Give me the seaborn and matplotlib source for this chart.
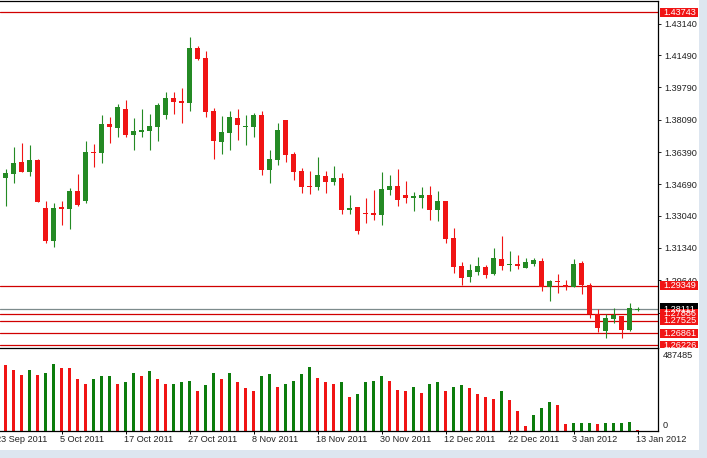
import numpy as np
import matplotlib
matplotlib.use("Agg")
import matplotlib.pyplot as plt
import matplotlib.transforms as mtransforms
from matplotlib.patches import Rectangle
import seaborn as sns

# ---------------- data (daily EUR/USD-like candles) ----------------
opens = [1.3504, 1.3525, 1.3585, 1.3535, 1.3597, 1.3344, 1.3172, 1.3350, 1.3341, 1.3434,
         1.3381, 1.3639, 1.3635, 1.3786, 1.3767, 1.3865, 1.3728, 1.3746, 1.3751, 1.3771,
         1.3835, 1.3923, 1.3907, 1.3898, 1.4186, 1.4134, 1.3855, 1.3693, 1.3741, 1.3818,
         1.3772, 1.3772, 1.3834, 1.3546, 1.3599, 1.3807, 1.3629, 1.3539, 1.3462, 1.3456,
         1.3513, 1.3483, 1.3502, 1.3334, 1.3350, 1.3320, 1.3320, 1.3309, 1.3441, 1.3460,
         1.3413, 1.3399, 1.3399, 1.3413, 1.3335, 1.3381, 1.3187, 1.3039, 1.2983, 1.3009,
         1.3036, 1.2997, 1.3076, 1.3046, 1.3051, 1.3030, 1.3050, 1.3066, 1.2930, 1.2962,
         1.2941, 1.2930, 1.3055, 1.2939, 1.2788, 1.2699, 1.2762, 1.2776, 1.2704, 1.2809]
highs = [1.3548, 1.3665, 1.3686, 1.3674, 1.3602, 1.3380, 1.3369, 1.3380, 1.3448, 1.3523,
         1.3697, 1.3680, 1.3834, 1.3822, 1.3892, 1.3913, 1.3816, 1.3864, 1.3839, 1.3897,
         1.3955, 1.3955, 1.3974, 1.4242, 1.4197, 1.4169, 1.3869, 1.3828, 1.3855, 1.3865,
         1.3834, 1.3844, 1.3855, 1.3650, 1.3790, 1.3807, 1.3639, 1.3555, 1.3539, 1.3613,
         1.3539, 1.3565, 1.3529, 1.3413, 1.3350, 1.3397, 1.3439, 1.3534, 1.3518, 1.3550,
         1.3486, 1.3429, 1.3455, 1.3460, 1.3434, 1.3381, 1.3239, 1.3062, 1.3050, 1.3087,
         1.3045, 1.3134, 1.3197, 1.3118, 1.3097, 1.3081, 1.3081, 1.3081, 1.2966, 1.2997,
         1.2966, 1.3076, 1.3066, 1.2950, 1.2813, 1.2788, 1.2818, 1.2776, 1.2845, 1.2825]
lows = [1.3357, 1.3478, 1.3532, 1.3514, 1.3378, 1.3162, 1.3141, 1.3255, 1.3234, 1.3357,
        1.3372, 1.3562, 1.3580, 1.3685, 1.3720, 1.3720, 1.3648, 1.3720, 1.3651, 1.3698,
        1.3814, 1.3841, 1.3793, 1.3856, 1.4123, 1.3825, 1.3604, 1.3630, 1.3651, 1.3702,
        1.3677, 1.3718, 1.3520, 1.3478, 1.3572, 1.3588, 1.3493, 1.3425, 1.3420, 1.3441,
        1.3425, 1.3467, 1.3314, 1.3314, 1.3209, 1.3267, 1.3283, 1.3257, 1.3414, 1.3357,
        1.3372, 1.3330, 1.3346, 1.3283, 1.3278, 1.3162, 1.3004, 1.2941, 1.2957, 1.2994,
        1.2978, 1.2992, 1.3018, 1.3015, 1.3025, 1.3030, 1.3039, 1.2909, 1.2857, 1.2897,
        1.2913, 1.2930, 1.2894, 1.2767, 1.2694, 1.2662, 1.2741, 1.2662, 1.2699, 1.2804]
closes = [1.3529, 1.3581, 1.3535, 1.3595, 1.3378, 1.3172, 1.3344, 1.3341, 1.3434, 1.3360,
          1.3639, 1.3634, 1.3786, 1.3772, 1.3876, 1.3728, 1.3750, 1.3756, 1.3774, 1.3886,
          1.3923, 1.3904, 1.3898, 1.4186, 1.4128, 1.3851, 1.3698, 1.3744, 1.3823, 1.3783,
          1.3776, 1.3834, 1.3546, 1.3602, 1.3755, 1.3625, 1.3535, 1.3456, 1.3456, 1.3518,
          1.3483, 1.3502, 1.3334, 1.3344, 1.3225, 1.3314, 1.3309, 1.3444, 1.3460, 1.3388,
          1.3399, 1.3402, 1.3413, 1.3335, 1.3381, 1.3183, 1.3036, 1.2978, 1.3018, 1.3039,
          1.2994, 1.3081, 1.3041, 1.3051, 1.3039, 1.3060, 1.3071, 1.2930, 1.2962, 1.2957,
          1.2930, 1.3050, 1.2941, 1.2788, 1.2715, 1.2767, 1.2783, 1.2704, 1.2818, 1.2811]
volumes = [446300, 412000, 379900, 412000, 379900, 398200, 460000, 425700, 425700, 357000,
           322700, 357000, 370800, 377600, 318100, 336400, 391400, 377600, 405100, 357000,
           318100, 322700, 336400, 343300, 267800, 315800, 398200, 357000, 391400, 329600,
           295200, 274600, 370800, 384500, 302100, 322700, 343300, 384500, 432600, 363900,
           329600, 318100, 336400, 226600, 254000, 329600, 343300, 370800, 343300, 281500,
           274600, 302100, 260900, 322700, 329600, 267800, 302100, 315800, 295200, 247200,
           226600, 219700, 267800, 206000, 130500, 34300, 103000, 157900, 199100, 171700,
           41200, 48100, 49000, 54900, 47500, 48500, 49000, 54900, 55500, 1500]
volume_dir = ["down", "down", "down", "up", "down", "up", "up", "down", "down", "down",
              "down", "up", "up", "up", "down", "up", "up", "down", "up", "down",
              "down", "up", "up", "up", "down", "up", "up", "down", "up", "down",
              "down", "down", "up", "up", "down", "up", "up", "up", "up", "down",
              "down", "down", "up", "down", "up", "up", "up", "up", "down", "down",
              "down", "up", "down", "up", "up", "down", "up", "up", "down", "down",
              "down", "down", "up", "down", "down", "down", "up", "up", "up", "down",
              "down", "up", "up", "up", "down", "up", "up", "up", "up", "down"]
date_positions = [-1, 7, 15, 23, 31, 39, 47, 55, 63, 71, 79]
date_labels = ["23 Sep 2011", "5 Oct 2011", "17 Oct 2011", "27 Oct 2011", "8 Nov 2011",
               "18 Nov 2011", "30 Nov 2011", "12 Dec 2011", "22 Dec 2011", "3 Jan 2012",
               "13 Jan 2012"]
price_ticks = [1.43140, 1.41490, 1.39790, 1.38090, 1.36390, 1.34690, 1.33040,
               1.31340, 1.29640, 1.27940]
red_levels = [1.43743, 1.29349, 1.27886, 1.27525, 1.26861, 1.26226]
current_price = 1.28111
volume_ticks = [0, 487485]

# ---------------- style ----------------
sns.set_style("white")
plt.rcParams["font.family"] = ["Liberation Sans", "DejaVu Sans"]

GREEN = "#248a24"
VGREEN = "#0c7c0c"
RED = "#f01414"
LINE_RED = "#d00000"
TXT = "#222222"
FS = 6.6

W, H = 707, 458
fig = plt.figure(figsize=(W / 100, H / 100), dpi=100)
fig.patch.set_facecolor("white")

def fy(y):
    return 1 - y / H

ax = fig.add_axes([0, fy(348), 658 / W, fy(1) - fy(348)])
axv = fig.add_axes([0, fy(430.5), 658 / W, fy(348) - fy(430.5)])
axl = fig.add_axes([658 / W, fy(348), 49 / W, fy(1) - fy(348)])

XLIM = (-5.5 / 8, (658 - 5.5) / 8)
YLIM = (1.26079, 1.44334)

# ---------------- candles ----------------
x = np.arange(len(opens))
o = np.array(opens); h = np.array(highs); l = np.array(lows); c = np.array(closes)
col = np.where(c >= o, GREEN, RED)
for lv in red_levels:
    ax.axhline(lv, color=LINE_RED, lw=0.9, zorder=2)
ax.axhline(current_price, color="#7d8b8c", lw=0.9, zorder=2)
ax.vlines(x, l, h, colors=col, linewidth=0.8, zorder=3)
body_low = np.minimum(o, c)
body_h = np.maximum(np.abs(c - o), 0.0006)
ax.bar(x, body_h, bottom=body_low, width=0.625, color=col, linewidth=0, zorder=4)
ax.set_xlim(*XLIM)
ax.set_ylim(*YLIM)
ax.set_xticks([])
ax.yaxis.tick_right()
ax.set_yticks(price_ticks)
ax.set_yticklabels([f"{v:.5f}" for v in price_ticks])
ax.tick_params(axis="y", which="both", right=True, left=False, direction="out",
               length=2.2, width=0.7, pad=2.2, labelsize=FS, colors=TXT)
for side in ["left", "bottom"]:
    ax.spines[side].set_visible(False)
for side in ["top", "right"]:
    ax.spines[side].set_color("black")
    ax.spines[side].set_linewidth(0.9)

# ---------------- volumes ----------------
sns.barplot(x=x, y=volumes, hue=volume_dir, palette={"up": VGREEN, "down": RED},
            dodge=False, native_scale=True, width=0.375, legend=False, saturation=1,
            linewidth=0, errorbar=None, ax=axv)
axv.set_xlim(*XLIM)
axv.set_ylim(0, 566450)
axv.set_xlabel("")
axv.set_ylabel("")
axv.yaxis.tick_right()
axv.set_yticks(volume_ticks)
axv.set_yticklabels([str(v) for v in volume_ticks])
axv.tick_params(axis="y", right=False, left=False, length=0, pad=3.4, labelsize=FS,
                colors=TXT)
for lab in axv.get_yticklabels():
    lab.set_va("bottom")
vis_pos = [p for p in date_positions if XLIM[0] <= p <= XLIM[1]]
axv.set_xticks(vis_pos)
axv.set_xticklabels([""] * len(vis_pos))
axv.tick_params(axis="x", bottom=True, direction="out", length=2.2, width=0.7,
                color="black")
trans = mtransforms.blended_transform_factory(axv.transData, axv.transAxes)
for p, lab in zip(date_positions, date_labels):
    axv.text(p - 0.19, -0.115, lab, transform=trans, ha="left", va="center",
             fontsize=FS, color=TXT, clip_on=False)
axv.spines["left"].set_visible(False)
for side in ["top", "right", "bottom"]:
    axv.spines[side].set_color("black")
    axv.spines[side].set_linewidth(0.9)

# ---------------- price labels on right ----------------
axl.set_xlim(0, 49)
axl.set_ylim(*YLIM)
axl.axis("off")
axl.patch.set_visible(False)
px = (YLIM[1] - YLIM[0]) / 347.0
axl.add_patch(Rectangle((2, current_price - 6 * px), 38, 12 * px, facecolor="black",
                        edgecolor="none", clip_on=True))
axl.text(5, current_price, f"{current_price:.5f}", color="white", fontsize=FS,
         ha="left", va="center", clip_on=True)
for lv in red_levels:
    axl.add_patch(Rectangle((2, lv - 4.6 * px), 38, 9.2 * px, facecolor=RED,
                            edgecolor="none", clip_on=True))
    axl.text(5, lv, f"{lv:.5f}", color="white", fontsize=FS, ha="left",
             va="center", clip_on=True)

# ---------------- window strips ----------------
fig.add_artist(Rectangle((699 / W, 0), 8 / W, 1, transform=fig.transFigure,
                         facecolor="#dde6f0", edgecolor="none", zorder=-5))
fig.add_artist(Rectangle((0, 0), 1, 8 / H, transform=fig.transFigure,
                         facecolor="#dde6f0", edgecolor="none", zorder=-5))

fig.savefig("out.png", dpi=100)
